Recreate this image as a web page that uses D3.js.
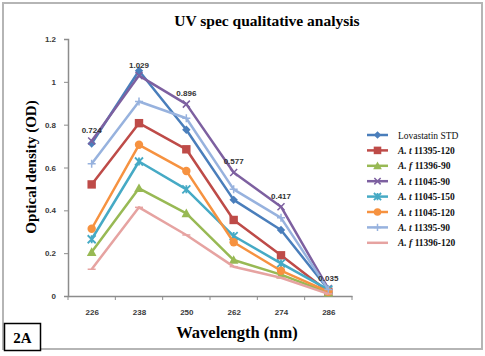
<!DOCTYPE html>
<html><head><meta charset="utf-8">
<script src="https://cdn.jsdelivr.net/npm/d3@7"></script>
<style>
body{margin:0;background:#fff;}
svg{display:block;}
</style></head>
<body>
<svg id="c" width="485" height="356"></svg>
<script>
const wavelengths = ["226","238","250","262","274","286"];
const yTicks = [0,0.2,0.4,0.6,0.8,1,1.2];
const lovastatinSTD = [0.712,1.052,0.776,0.449,0.308,0.03];
const at11395_120 = [0.521,0.807,0.685,0.355,0.19,0.02];
const af11396_90 = [0.205,0.503,0.386,0.168,0.1,0.015];
const at11045_90 = [0.724,1.029,0.896,0.577,0.417,0.035];
const at11045_150 = [0.265,0.628,0.498,0.28,0.152,0.03];
const at11045_120 = [0.314,0.706,0.584,0.251,0.118,0.02];
const at11395_90 = [0.617,0.908,0.83,0.498,0.365,0.03];
const af11396_120 = [0.125,0.414,0.285,0.137,0.085,0.01];
const seriesNames = [
  {pre:"Lovastatin STD", num:""},
  {pre:"A. t", num:"11395-120"},
  {pre:"A. f", num:"11396-90"},
  {pre:"A. t", num:"11045-90"},
  {pre:"A. t", num:"11045-150"},
  {pre:"A. t", num:"11045-120"},
  {pre:"A. t", num:"11395-90"},
  {pre:"A. f", num:"11396-120"}
];
const seriesValues = [lovastatinSTD, at11395_120, af11396_90, at11045_90, at11045_150, at11045_120, at11395_90, af11396_120];
const colors = ["#4A7EBB","#BE4B48","#98B954","#7D60A0","#46AAC5","#F69240","#97B2DE","#E6A3A1"];
const markers = ["diamond","square","triangle","x","star","circle","plus","dash"];
const labelledSeries = 3;

const svg = d3.select("#c");
svg.append("rect").attr("x",3).attr("y",3).attr("width",479).attr("height",346)
  .attr("fill","#fff").attr("stroke","#b5b5b5").attr("stroke-width",2);

const x = d3.scalePoint().domain(wavelengths).range([68,352]).padding(0.5);
const y = d3.scaleLinear().domain([0,1.2]).range([296,39]);

svg.append("text").attr("x",267).attr("y",26).attr("text-anchor","middle")
  .attr("font-family","Liberation Serif, Times New Roman, serif").attr("font-weight","bold")
  .attr("font-size",15.5).text("UV spec qualitative analysis");

const axisColor = "#8c8c8c";
const yAxis = svg.append("g").attr("transform","translate(68,0)")
  .call(d3.axisLeft(y).tickValues(yTicks).tickSize(4).tickFormat(d=>d3.format("")(d)));
yAxis.select(".domain").attr("stroke",axisColor).attr("stroke-width",1.5);
yAxis.selectAll(".tick line").attr("stroke",axisColor);
yAxis.selectAll(".tick text").attr("x",-12).attr("font-family","Liberation Sans, Arial, sans-serif")
  .attr("font-size",8).attr("font-weight","bold").attr("fill","#3a3a3a");

const xAxis = svg.append("g").attr("transform","translate(0,296)")
  .call(d3.axisBottom(x).tickSize(0).tickPadding(13));
xAxis.select(".domain").attr("stroke",axisColor).attr("stroke-width",1.5);
xAxis.selectAll(".tick text").attr("font-family","Liberation Sans, Arial, sans-serif")
  .attr("font-size",8).attr("font-weight","bold").attr("fill","#3a3a3a");
const step = x.step();
const bounds = wavelengths.map(w=>x(w)-step/2).concat([x(wavelengths[wavelengths.length-1])+step/2]);
svg.append("g").selectAll("line").data(bounds).join("line")
  .attr("x1",d=>d).attr("x2",d=>d).attr("y1",296).attr("y2",300)
  .attr("stroke",axisColor);

svg.append("text").attr("transform","translate(36,167) rotate(-90)").attr("text-anchor","middle")
  .attr("font-family","Liberation Serif, Times New Roman, serif").attr("font-weight","bold")
  .attr("font-size",15).text("Optical density (OD)");
svg.append("text").attr("x",237).attr("y",338).attr("text-anchor","middle")
  .attr("font-family","Liberation Serif, Times New Roman, serif").attr("font-weight","bold")
  .attr("font-size",16.5).text("Wavelength (nm)");

svg.append("rect").attr("x",4.5).attr("y",323.5).attr("width",36).attr("height",27)
  .attr("fill","#fff").attr("stroke","#000").attr("stroke-width",1.5);
svg.append("text").attr("x",22.5).attr("y",343).attr("text-anchor","middle")
  .attr("font-family","Liberation Serif, Times New Roman, serif").attr("font-weight","bold")
  .attr("font-size",15).text("2A");

function drawMarker(g, type, color, cx, cy, s){
  s = s||1;
  if(type==="diamond"){
    g.append("path").attr("d",`M${cx},${cy-4.2*s}L${cx+4.2*s},${cy}L${cx},${cy+4.2*s}L${cx-4.2*s},${cy}Z`).attr("fill",color);
  } else if(type==="square"){
    g.append("rect").attr("x",cx-4.2*s).attr("y",cy-4.2*s).attr("width",8.4*s).attr("height",8.4*s).attr("fill",color);
  } else if(type==="triangle"){
    g.append("path").attr("d",`M${cx},${cy-4.8*s}L${cx+4.8*s},${cy+3.8*s}L${cx-4.8*s},${cy+3.8*s}Z`).attr("fill",color);
  } else if(type==="circle"){
    g.append("circle").attr("cx",cx).attr("cy",cy).attr("r",4.2*s).attr("fill",color);
  } else if(type==="x"){
    g.append("path").attr("d",`M${cx-3.5*s},${cy-3.5*s}L${cx+3.5*s},${cy+3.5*s}M${cx-3.5*s},${cy+3.5*s}L${cx+3.5*s},${cy-3.5*s}`).attr("stroke",color).attr("stroke-width",1.5);
  } else if(type==="star"){
    g.append("path").attr("d",`M${cx-4*s},${cy-4*s}L${cx+4*s},${cy+4*s}M${cx-4*s},${cy+4*s}L${cx+4*s},${cy-4*s}M${cx},${cy-4*s}L${cx},${cy+4*s}`).attr("stroke",color).attr("stroke-width",1.8);
  } else if(type==="plus"){
    g.append("path").attr("d",`M${cx-4*s},${cy}L${cx+4*s},${cy}M${cx},${cy-4*s}L${cx},${cy+4*s}`).attr("stroke",color).attr("stroke-width",1.5);
  } else if(type==="dash"){
    g.append("path").attr("d",`M${cx-4*s},${cy}L${cx+4*s},${cy}`).attr("stroke",color).attr("stroke-width",1.5);
  }
}

const line = d3.line().x((d,i)=>x(wavelengths[i])).y(d=>y(d));
const plot = svg.append("g");
for(let k=0;k<seriesValues.length;k++){
  const g = plot.append("g");
  g.append("path").datum(seriesValues[k]).attr("d",line).attr("fill","none")
    .attr("stroke",colors[k]).attr("stroke-width",2.5).attr("stroke-linejoin","round");
  seriesValues[k].forEach((v,i)=>drawMarker(g, markers[k], colors[k], x(wavelengths[i]), y(v)));
}
svg.append("g").selectAll("text").data(seriesValues[labelledSeries]).join("text")
  .attr("x",(d,i)=>x(wavelengths[i])).attr("y",d=>y(d)-8).attr("text-anchor","middle")
  .attr("font-family","Liberation Sans, Arial, sans-serif").attr("font-size",8).attr("font-weight","bold")
  .attr("fill","#333").text(d=>d3.format(".3f")(d));

const lg = svg.append("g");
seriesNames.forEach((s,k)=>{
  const ly = 135 + k*15.4;
  lg.append("line").attr("x1",367).attr("x2",388).attr("y1",ly).attr("y2",ly)
    .attr("stroke",colors[k]).attr("stroke-width",2.5);
  drawMarker(lg, markers[k], colors[k], 377.5, ly, 0.9);
  const t = lg.append("text").attr("x",398).attr("y",ly+3.5)
    .attr("font-family","Liberation Serif, Times New Roman, serif").attr("font-size",9.5).attr("fill","#111");
  if(s.num===""){
    t.text(s.pre);
  } else {
    t.append("tspan").attr("font-style","italic").attr("font-weight","bold").text(s.pre);
    t.append("tspan").attr("font-weight","bold").text(" "+s.num);
  }
});
</script>
</body></html>
